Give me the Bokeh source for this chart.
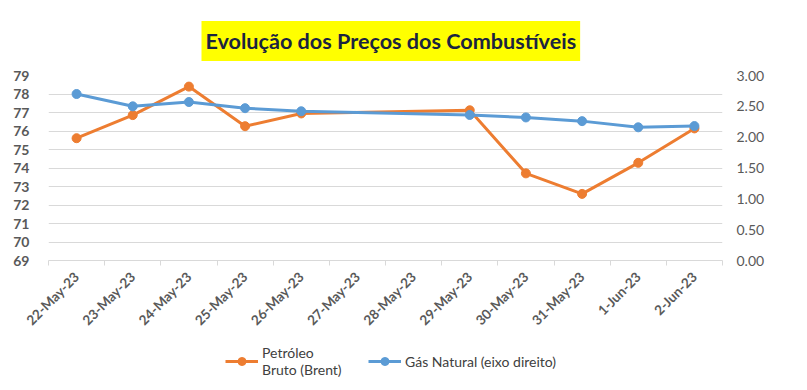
import math
from bokeh.plotting import figure
from bokeh.layouts import column
from bokeh.models import (ColumnDataSource, Range1d, LinearAxis, FixedTicker, NumeralTickFormatter,
                          Legend, LegendItem, Title, Grid)
from bokeh.embed import file_html
from bokeh.resources import INLINE

dates = ["22-May-23", "23-May-23", "24-May-23", "25-May-23", "26-May-23", "27-May-23",
         "28-May-23", "29-May-23", "30-May-23", "31-May-23", "1-Jun-23", "2-Jun-23"]
brent = [75.61, 76.86, 78.40, 76.26, 76.95, None, None, 77.12, 73.71, 72.60, 74.28, 76.14]
gas = [2.70, 2.50, 2.57, 2.47, 2.42, None, None, 2.36, 2.32, 2.26, 2.16, 2.18]
left_ticks = list(range(69, 80))
right_ticks = [0.0, 0.5, 1.0, 1.5, 2.0, 2.5, 3.0]

title_text = "Evolução dos Preços dos Combustíveis"
brent_label = "Petróleo\nBruto (Brent)"
gas_label = "Gás Natural (eixo direito)"

ORANGE = "#ED7D31"
BLUE = "#5B9BD5"
GREY = "#595959"
DARK = "#404040"
GRID = "#D9D9D9"
FONT = "Lato"

# category centres on a numeric axis (slot i spans [i, i+1])
centres = [i + 0.5 for i in range(len(dates))]
bounds = list(range(len(dates) + 1))


def source(vals):
    xs = [c for c, v in zip(centres, vals) if v is not None]
    ys = [v for v in vals if v is not None]
    return ColumnDataSource(dict(x=xs, y=ys))


p = figure(x_range=Range1d(0, len(dates)), y_range=Range1d(left_ticks[0], left_ticks[-1]),
           x_axis_type=None, y_axis_type=None,
           frame_width=674, frame_height=185,
           min_border_left=48, min_border_right=85, min_border_top=75, min_border_bottom=80,
           output_backend="svg", toolbar_location=None)
p.outline_line_color = None
p.background_fill_color = "white"
p.border_fill_color = "white"
p.extra_y_ranges = {"gas": Range1d(right_ticks[0], right_ticks[-1])}

left_axis = LinearAxis(ticker=FixedTicker(ticks=left_ticks))
right_axis = LinearAxis(y_range_name="gas", ticker=FixedTicker(ticks=right_ticks),
                        formatter=NumeralTickFormatter(format="0.00"))
for ax in (left_axis, right_axis):
    ax.axis_line_color = None
    ax.major_tick_line_color = None
    ax.minor_tick_line_color = None
    ax.major_label_text_font = FONT
    ax.major_label_text_font_size = "14px"
    ax.major_label_text_color = GREY
left_axis.major_label_text_font_style = "bold"
left_axis.major_label_standoff = 13
right_axis.major_label_standoff = 8
p.add_layout(left_axis, "left")
p.add_layout(right_axis, "right")

p.add_layout(Grid(dimension=1, ticker=left_axis.ticker, grid_line_color=GRID))

x_axis = LinearAxis(ticker=FixedTicker(ticks=centres, minor_ticks=bounds))
x_axis.major_label_overrides = {c: d for c, d in zip(centres, dates)}
x_axis.major_tick_line_color = None
x_axis.major_tick_out = 0
x_axis.major_tick_in = 0
x_axis.minor_tick_line_color = GRID
x_axis.minor_tick_in = 0
x_axis.minor_tick_out = 5
x_axis.axis_line_color = GRID
x_axis.major_label_orientation = math.pi / 4
x_axis.major_label_standoff = 9
x_axis.major_label_text_font = FONT
x_axis.major_label_text_font_size = "13.5px"
x_axis.major_label_text_font_style = "bold"
x_axis.major_label_text_color = GREY
p.add_layout(x_axis, "below")

src_b = source(brent)
src_g = source(gas)
p.line("x", "y", source=src_b, line_color=ORANGE, line_width=3)
p.scatter("x", "y", source=src_b, size=9, fill_color=ORANGE, line_color=ORANGE)
p.line("x", "y", source=src_g, y_range_name="gas", line_color=BLUE, line_width=3)
p.scatter("x", "y", source=src_g, y_range_name="gas", size=9, fill_color=BLUE, line_color=BLUE)

p.title = Title(text=title_text, align="left", text_font=FONT, text_font_size="21.6px",
                text_font_style="bold", text_color="#1B2440",
                background_fill_color="#FFFF00", padding=(4, 7), standoff=29, offset=153)

# legend strip below the chart (same side borders as the chart so frames align;
# its renderers sit outside the strip's visible range)
lg = figure(x_range=Range1d(-2, -1), y_range=Range1d(-2, -1),
            x_axis_type=None, y_axis_type=None, width=807, height=50,
            min_border_left=48, min_border_right=85, min_border_top=0, min_border_bottom=0,
            output_backend="svg", toolbar_location=None)
lg.outline_line_color = None
lg.grid.visible = False
lb = lg.line("x", "y", source=src_b, line_color=ORANGE, line_width=3)
lbs = lg.scatter("x", "y", source=src_b, size=8, fill_color=ORANGE, line_color=ORANGE)
lgl = lg.line("x", "y", source=src_g, line_color=BLUE, line_width=3)
lgs = lg.scatter("x", "y", source=src_g, size=8, fill_color=BLUE, line_color=BLUE)

legend = Legend(items=[LegendItem(label=brent_label, renderers=[lb, lbs]),
                       LegendItem(label=gas_label, renderers=[lgl, lgs])],
                orientation="horizontal", location=(177, 12))
legend.border_line_color = None
legend.background_fill_alpha = 0
legend.padding = 0
legend.margin = 0
legend.label_text_font = FONT
legend.label_text_font_size = "14px"
legend.label_text_color = DARK
legend.glyph_width = 33
legend.label_standoff = 4
legend.label_width = 106
legend.spacing = 0
lg.add_layout(legend, "center")

layout = column(p, lg, spacing=0)
open("out.html", "w").write(file_html(layout, INLINE))
